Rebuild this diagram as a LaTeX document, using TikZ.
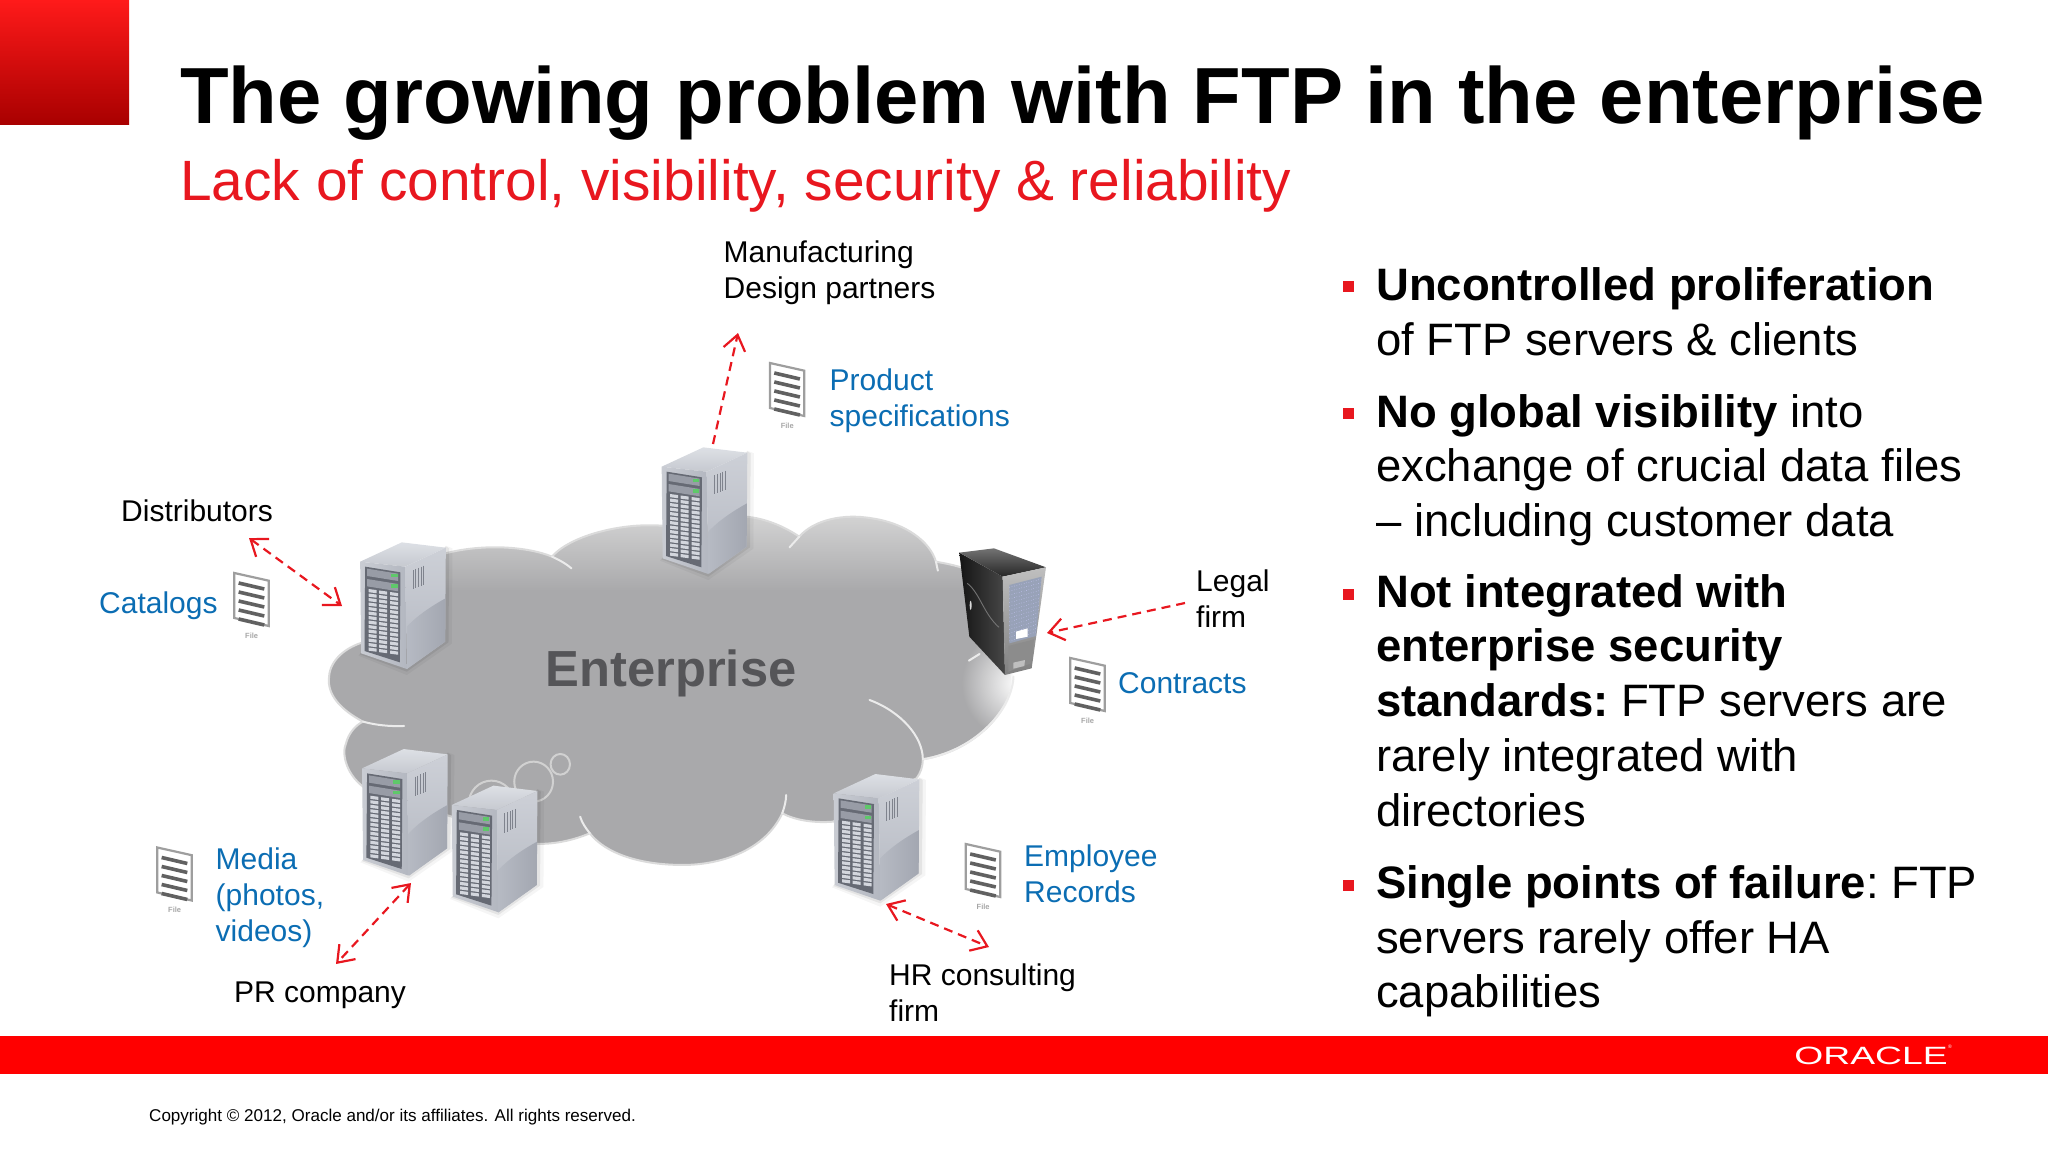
\documentclass[tikz,border=0pt]{standalone}
\usepackage{fontspec}
\usepackage{graphicx}
\setmainfont{Liberation Sans}
\usetikzlibrary{arrows.meta,fadings}
\definecolor{oraRed}{HTML}{FF0000}
\definecolor{subRed}{HTML}{E8171F}
\definecolor{linkBlue}{HTML}{0B6DB3}
\definecolor{cloudG}{HTML}{A9A9AB}
\definecolor{cloudL}{HTML}{D4D4D4}
\definecolor{entG}{HTML}{555558}
\definecolor{cornTop}{HTML}{FF1A1A}
\definecolor{cornBot}{HTML}{A80000}
\definecolor{meshC}{HTML}{98A2B8}
\definecolor{srvTopA}{HTML}{DDE0E5}
\definecolor{srvTopB}{HTML}{C6C9D0}
\definecolor{srvFrA}{HTML}{C9CCD3}
\definecolor{srvFrB}{HTML}{B3B7C0}
\definecolor{srvSideA}{HTML}{CDD0D7}
\definecolor{srvSideB}{HTML}{B4B8C1}
\definecolor{srvLowA}{HTML}{B6BAC3}
\definecolor{srvLowB}{HTML}{A3A7B1}
\definecolor{srvPanel}{HTML}{666A74}
\definecolor{srvBay}{HTML}{989CA6}
\definecolor{srvCell}{HTML}{D3D6DD}
\definecolor{srvLed}{HTML}{5FC86A}
\definecolor{srvVent}{HTML}{7F838D}
\pgfdeclareverticalshading{cloudsh}{100bp}{color(0bp)=(cloudG); color(64bp)=(cloudG); color(75bp)=(cloudL); color(100bp)=(cloudL)}
\tikzfading[name=glowfade, inner color=transparent!0, outer color=transparent!100]
\newcommand{\fsz}[2]{\fontsize{#1}{#2}\selectfont}
\tikzset{
  lab/.style={font=\fsz{30}{36},black,inner sep=0pt,align=left},
  blue lab/.style={lab,text=linkBlue},
  para/.style={font=\fsz{45.45}{54.8},black,inner sep=0pt,align=left,anchor=north west},
  bull/.style={fill=subRed,inner sep=0pt,minimum size=11pt,rectangle},
  conn/.style={draw=subRed,line width=2.2pt,dash pattern=on 9pt off 6pt,>={Straight Barb[length=15pt,width=22pt,line width=2.2pt]}},
  cloudline/.style={draw=white!92!black,line width=2pt,line cap=round},
  pics/srv/.style={code={
    \begin{scope}[scale=0.3333]
      \fill[black,opacity=.04] (60,392)--(205,450)--(340,356)--(342,70)--(322,62)--cycle;
      \fill[black,opacity=.07] (64,388)--(205,440)--(330,352)--(332,70)--(322,64)--cycle;
      \shade[top color=srvTopA,bottom color=srvTopB] (65,110)--(190,52)--(322,68)--(200,125)--cycle;
      \shade[left color=srvFrA,right color=srvFrB] (65,110)--(200,125)--(205,432)--(68,385)--cycle;
      \shade[top color=srvSideA,bottom color=srvSideB] (200,125)--(322,68)--(320,350)--(205,432)--cycle;
      \shade[left color=srvLowA,right color=srvLowB] (205,305) .. controls (240,268) and (285,240) .. (321,220) -- (320,350) -- (205,432) -- cycle;
      \fill[srvPanel] (80,125)--(186,142)--(184,412)--(78,378)--cycle;
      \fill[srvBay] (86,131)--(179,146)--(179,168)--(86,153)--cycle;
      \fill[srvBay] (86,162)--(179,177)--(179,199)--(86,184)--cycle;
      \fill[srvLed] (158,146) rectangle (178,157);
      \fill[srvLed] (158,177) rectangle (178,188);
      \foreach \r in {0,...,13}{
        \foreach \c/\cx in {0/90,1/122,2/155}{
          \pgfmathsetmacro{\yy}{192+\r*13.5+(\cx-90)*0.14}
          \pgfmathsetmacro{\xe}{\cx+24}
          \pgfmathsetmacro{\ye}{\yy+3.2}
          \pgfmathsetmacro{\yb}{\yy+9.5}
          \pgfmathsetmacro{\yc}{\ye+9.5}
          \fill[srvCell] (\cx,\yy)--(\xe,\ye)--(\xe,\yc)--(\cx,\yb)--cycle;
        }
      }
      \foreach \v in {224,232,240,248,256}{
        \pgfmathsetmacro{\ya}{135-(\v-224)*0.42}
        \pgfmathsetmacro{\yb}{\ya+58}
        \draw[srvVent,line width=.9pt] (\v,\ya)--(\v,\yb);
      }
    \end{scope}
  }},
  pics/filedoc/.style={code={
    \begin{scope}[scale=0.3333]
      \draw[draw=black!38,fill=white,line width=2.2pt] (421,384)--(524,407)--(524,543)--(421,519)--cycle;
      \foreach \k in {0,...,4}{
        \pgfmathsetmacro{\ya}{414+\k*27}
        \pgfmathsetmacro{\yb}{\ya+18}
        \draw[black!62,line width=3.6pt] (434,\ya)--(511,\yb);
      }
      \node[font=\bfseries\fsz{7.5}{8},text=black!35,inner sep=0pt] (-tag) at (473,572) {File};
    \end{scope}
  }},
}
\begin{document}
\begin{tikzpicture}[x=1pt,y=-1pt]
\useasboundingbox (0,0) rectangle (2048,1152);
% corner block
\shade[top color=cornTop,bottom color=cornBot] (0,0) rectangle (129,124.5);
% footer
\fill[oraRed] (0,1036) rectangle (2048,1074);
\node[anchor=center,text=white,inner sep=0pt,font=\fsz{25}{26}] (logo) at (1871,1056) {\scalebox{1.49}[1]{ORACLE}};
\node[anchor=center,text=white,inner sep=0pt,font=\fsz{5}{6}] (logor) at (1950,1047) {®};
\node[anchor=base west,inner sep=0pt,font=\fsz{17.05}{20}] (copyr) at (149,1121) {Copyright © 2012, Oracle and/or its affiliates. All rights reserved.};
% titles
\node[anchor=base west,inner sep=0pt,font=\bfseries\fsz{79.6}{90}] (title) at (180,123) {The growing problem with FTP in the enterprise};
\node[anchor=base west,inner sep=0pt,text=subRed,font=\fsz{56.85}{66}] (subtitle) at (180,200.5) {Lack of control, visibility, security \& reliability};
% cloud
\begin{scope}[shift={(300,420)},xscale=0.4847,yscale=0.3333]
  \shade[shading=cloudsh,draw=white!86!black,line width=2pt]
    (130,905) .. controls (85,870) and (55,825) .. (60,770)
    .. controls (62,720) and (95,680) .. (135,665)
    -- (170,500) -- (300,400)
    .. controls (380,370) and (470,380) .. (520,410)
    .. controls (560,340) and (700,290) .. (800,330)
    -- (920,290)
    .. controls (960,295) and (1000,320) .. (1030,350)
    .. controls (1060,300) and (1120,280) .. (1180,295)
    .. controls (1250,310) and (1300,365) .. (1312,425)
    .. controls (1330,430) and (1350,435) .. (1370,445)
    -- (1460,700) -- (1470,780)
    .. controls (1470,860) and (1400,990) .. (1285,1018)
    .. controls (1285,1040) and (1280,1060) .. (1272,1075)
    -- (1100,1205)
    .. controls (1060,1210) and (1020,1200) .. (995,1180)
    .. controls (960,1290) and (870,1335) .. (790,1335)
    .. controls (700,1335) and (630,1300) .. (598,1240)
    .. controls (565,1260) and (530,1272) .. (490,1272)
    -- (140,1110)
    .. controls (95,1070) and (85,1000) .. (95,970)
    .. controls (100,940) and (115,915) .. (130,905) -- cycle;
  \fill[white,path fading=glowfade] (1480,790) ellipse (115 and 170);
  \draw[cloudline] (1472,770) .. controls (1470,860) and (1400,990) .. (1285,1018);
  \draw[cloudline] (130,905) .. controls (155,915) and (185,920) .. (215,918);
  \draw[cloudline] (520,410) .. controls (535,420) and (550,432) .. (560,445);
  \draw[cloudline] (1030,350) -- (1010,382);
  \draw[cloudline] (1312,425) -- (1316,452);
  \draw[cloudline] (1175,840) .. controls (1240,875) and (1285,950) .. (1285,1018);
  \draw[cloudline] (578,1190) .. controls (582,1210) and (590,1225) .. (598,1240);
  \draw[cloudline] (995,1180) .. controls (1000,1160) and (1003,1140) .. (1003,1125);
  \draw[cloudline] (1380,722) -- (1402,702);
  \draw[cloudline,draw=white!82!black] (482,1085) ellipse (40 and 60);
  \draw[cloudline,draw=white!82!black] (537,1033) ellipse (20 and 31);
  \draw[cloudline,draw=white!82!black] (395,1152) ellipse (47 and 70);
\end{scope}
\node[font=\bfseries\fsz{50.7}{56},text=entG,inner sep=0pt] (ent) at (671,673.5) {Enterprise};
% servers
\pic (stop) at (640,430) {srv};
\pic (sleft) at (338.5,525) {srv};
\pic (sbl) at (340.4,731.7) {srv};
\pic (sbm) at (430.1,768.3) {srv};
\pic (sbr) at (812,756.7) {srv};
% dark tower
\begin{scope}[shift={(930,530)},scale=0.3333]
  \shade[left color=black!92,right color=black!72] (88,68)--(218,140)--(225,435)--(118,320)--cycle;
  \shade[top color=black!55,bottom color=black!85] (88,68)--(192,55)--(348,112)--(218,140)--cycle;
  \shade[top color=black!25,bottom color=black!50] (218,140)--(348,112)--(305,415)--(225,435)--cycle;
  \fill[meshC] (238,165)--(335,140)--(318,318)--(238,340)--cycle;
  \foreach \k in {0,...,14}{
    \pgfmathsetmacro{\ya}{172+\k*11.5}
    \pgfmathsetmacro{\yb}{147+\k*11.3}
    \pgfmathsetmacro{\xb}{335-\k*1.1}
    \draw[white!80!blue,line width=.5pt,dotted] (238,\ya)--(\xb,\yb);
  }
  \fill[white] (258,305)--(293,295)--(293,320)--(258,327)--cycle;
  \fill[black!45] (235,348)--(312,328)--(303,400)--(235,425)--cycle;
  \fill[black!25] (250,398)--(285,390)--(283,408)--(250,416)--cycle;
  \draw[black!55,line width=.9pt] (112,160) .. controls (150,190) and (160,250) .. (207,292);
  \fill[white!85!black] (122,226) ellipse (3 and 14);
\end{scope}
% file icons
\pic (fprod) at (629.6,235) {filedoc};
\pic (fcat) at (94,445) {filedoc};
\pic (fcon) at (930,530) {filedoc};
\pic (fmed) at (17,719.5) {filedoc};
\pic (femp) at (825.5,716) {filedoc};
% labels
\node[lab,anchor=north west] (lmanu) at (723.5,241) {Manufacturing\\Design partners};
\node[blue lab,anchor=north west] (lprod) at (829.5,369) {Product\\specifications};
\node[lab,anchor=base west] (ldist) at (121,521) {Distributors};
\node[blue lab,anchor=base west] (lcat) at (99,613) {Catalogs};
\node[lab,anchor=north west] (llegal) at (1196,569.5) {Legal\\firm};
\node[blue lab,anchor=base west] (lcontr) at (1118,693.5) {Contracts};
\node[blue lab,anchor=north west] (lmedia) at (215.5,847.5) {Media\\(photos,\\videos)};
\node[blue lab,anchor=north west] (lemp) at (1024,845) {Employee\\Records};
\node[lab,anchor=base west] (lpr) at (234,1002.5) {PR company};
\node[lab,anchor=north west] (lhr) at (889,963.5) {HR consulting\\firm};
% connectors
\coordinate (a1) at (713,444); \coordinate (a2) at (738,333);
\coordinate (b1) at (249,538); \coordinate (b2) at (342,606);
\coordinate (c1) at (1185,603); \coordinate (c2) at (1047,633);
\coordinate (d1) at (411,883); \coordinate (d2) at (336,964);
\coordinate (e1) at (886,904); \coordinate (e2) at (989,947);
\draw[conn,->] (a1) -- (a2);
\draw[conn,<->] (b1) -- (b2);
\draw[conn,->] (c1) -- (c2);
\draw[conn,<->] (d1) -- (d2);
\draw[conn,<->] (e1) -- (e2);
% bullets
\node[bull] (b-a) at (1348,286) {};
\node[bull] (b-b) at (1348,413) {};
\node[bull] (b-c) at (1348,594) {};
\node[bull] (b-d) at (1348,885) {};
\node[para] (pa) at (1376,267.5) {\textbf{Uncontrolled proliferation}\\of FTP servers \& clients};
\node[para] (pb) at (1376,394) {\textbf{No global visibility} into\\exchange of crucial data files\\– including customer data};
\node[para] (pc) at (1376,574) {\textbf{Not integrated with}\\\textbf{enterprise security}\\\textbf{standards:}\ FTP servers are\\rarely integrated with\\directories};
\node[para] (pd) at (1376,865.2) {\textbf{Single points of failure}:\ FTP\\servers rarely offer HA\\capabilities};
\end{tikzpicture}
\end{document}
